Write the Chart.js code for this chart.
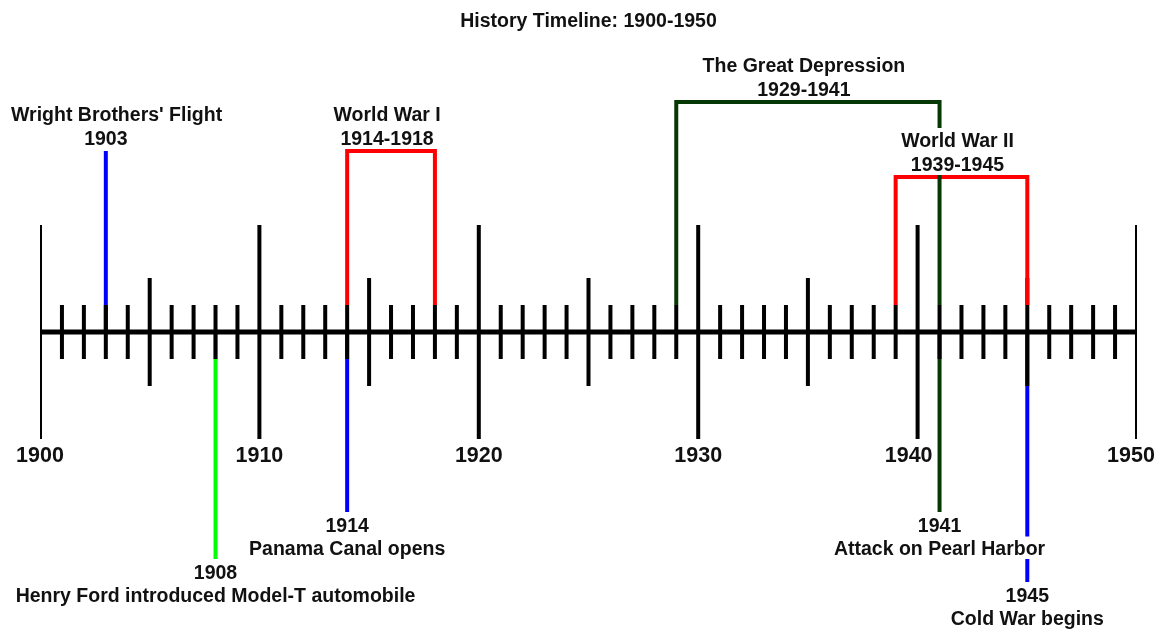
<!DOCTYPE html>
<html>
<head>
<meta charset="utf-8">
<title>History Timeline: 1900-1950</title>
<script src="https://cdn.jsdelivr.net/npm/chart.js@4.4.1/dist/chart.umd.min.js"></script>
<style>
  html, body { margin: 0; padding: 0; background: #fff; }
  #wrap { width: 1165px; height: 630px; }
</style>
</head>
<body>
<div id="wrap"><canvas id="timeline" width="1165" height="630"></canvas></div>
<script>
// --- data ---
const startYear = 1900;
const endYear = 1950;
const decadeLabels = ["1900", "1910", "1920", "1930", "1940", "1950"];

// single events
const eventNames = [
  "Wright Brothers' Flight",
  "Henry Ford introduced Model-T automobile",
  "Panama Canal opens",
  "Attack on Pearl Harbor",
  "Cold War begins",
];
const eventYears = [1903, 1908, 1914, 1941, 1945];

// periods
const spanNames = ["World War I", "The Great Depression", "World War II"];
const spanStarts = [1914, 1929, 1939];
const spanEnds = [1918, 1941, 1945];

// --- layout / style (values are px above the main line, negative = below) ---
const FONT = "'Liberation Sans', Arial, sans-serif";
const TEXT = "#111";
const axisPx = 332; // pixel row of the main line
const titlePad = 9.5;
const titleH = 19.5 * 1.2 + titlePad; // height taken by the title box
const tickLen = { decade: 107, five: 54, year: 27 };
const decadeLabelPad = [0, 0, 0, 0, 3, 2]; // trailing spaces, nudges label left
const eventReach = [181, -227, -180, -180, -250];
const eventColors = ["#0000ff", "#00ff00", "#0000ff", "#063806", "#0000ff"];
const spanHeights = [181, 230, 155];
const spanColors = ["#ff0000", "#063806", "#ff0000"];
const spanLabelDx = -4;
const textDy = 2;

// ticks on the main line, one segment per year
const tickData = [];
for (let yr = startYear; yr <= endYear; yr++) {
  const len =
    yr % 10 === 0 ? tickLen.decade : yr % 5 === 0 ? tickLen.five : tickLen.year;
  tickData.push({ x: yr, y: len }, { x: yr, y: -len }, { x: yr, y: null });
}

const lineDefaults = {
  showLine: true,
  pointRadius: 0,
  borderWidth: 4,
  fill: false,
  tension: 0,
};

const datasets = [
  { ...lineDefaults, label: "ticks", data: tickData, borderColor: "#000", order: 2 },
  {
    ...lineDefaults,
    label: "axis",
    data: [{ x: startYear, y: 0 }, { x: endYear, y: 0 }],
    borderColor: "#000",
    borderWidth: 5,
    order: 2,
  },
];

// brackets sit on top of the ticks and stop at the short tick end
spanNames.forEach((name, i) => {
  datasets.push({
    ...lineDefaults,
    label: name,
    data: [
      { x: spanStarts[i], y: tickLen.year },
      { x: spanStarts[i], y: spanHeights[i] },
      { x: spanEnds[i], y: spanHeights[i] },
      { x: spanEnds[i], y: tickLen.year },
    ],
    borderColor: spanColors[i],
    order: spanColors[i] === "#063806" ? 0 : 1,
  });
});

// single event stems run under the ticks
eventNames.forEach((name, i) => {
  datasets.push({
    ...lineDefaults,
    label: name,
    data: [{ x: eventYears[i], y: 0 }, { x: eventYears[i], y: eventReach[i] }],
    borderColor: eventColors[i],
    order: 3,
  });
});

// labels: two lines each, white box behind so lines get hidden under text
function drawGroup(chart, lines, xVal, vTop, vBottom, dx) {
  const ctx = chart.ctx;
  const xs = chart.scales.x;
  const ys = chart.scales.y;
  const c1 = ys.getPixelForValue(vTop);
  const c2 = ys.getPixelForValue(vBottom);
  const mid = (c1 + c2) / 2;
  const boxes = [
    [c1 - 12, mid],
    [mid, c2 + 11],
  ];
  const centers = [c1, c2];
  lines.forEach((txt, k) => {
    const w = ctx.measureText(txt).width;
    let x = xs.getPixelForValue(xVal) + (dx || 0);
    x = Math.max(x, 11 + w / 2);
    x = Math.min(x, chart.width - 10 - w / 2);
    ctx.fillStyle = "#fff";
    ctx.fillRect(x - w / 2 - 2, boxes[k][0], w + 4, boxes[k][1] - boxes[k][0]);
    ctx.fillStyle = TEXT;
    ctx.fillText(txt, x, centers[k] + textDy);
  });
}

const labelPlugin = {
  id: "timelineLabels",
  afterDraw(chart) {
    const ctx = chart.ctx;
    ctx.save();
    ctx.font = "bold 19.5px " + FONT;
    ctx.textAlign = "center";
    ctx.textBaseline = "middle";

    spanNames.forEach((name, i) => {
      const h = spanHeights[i];
      drawGroup(
        chart,
        [name, spanStarts[i] + "-" + spanEnds[i]],
        (spanStarts[i] + spanEnds[i]) / 2,
        h + 37,
        h + 13,
        spanLabelDx
      );
    });

    eventNames.forEach((name, i) => {
      const r = eventReach[i];
      if (r > 0) {
        drawGroup(chart, [name, String(eventYears[i])], eventYears[i], r + 37, r + 13);
      } else {
        drawGroup(chart, [String(eventYears[i]), name], eventYears[i], r - 13, r - 36);
      }
    });
    ctx.restore();
  },
};

new Chart(document.getElementById("timeline"), {
  type: "scatter",
  data: { datasets },
  options: {
    responsive: false,
    animation: false,
    events: [],
    layout: { padding: { left: 40, right: 28, top: 0, bottom: 0 } },
    plugins: {
      legend: { display: false },
      tooltip: { enabled: false },
      title: {
        display: true,
        text: "History Timeline: 1900-1950",
        fullSize: false,
        color: TEXT,
        font: { family: FONT, size: 19.5, weight: "bold", lineHeight: 1.2 },
        padding: { top: titlePad, bottom: 0 },
      },
    },
    scales: {
      x: {
        type: "linear",
        min: startYear,
        max: endYear,
        position: { y: -111 },
        grid: { display: false, drawTicks: false },
        border: { display: false },
        ticks: {
          stepSize: 10,
          padding: 0,
          color: TEXT,
          font: { family: FONT, size: 21.5, weight: "bold" },
          callback: (v, i) => decadeLabels[i] + " ".repeat(decadeLabelPad[i]),
        },
        afterFit: (s) => {
          // axis labels float at the tick ends, take no room in the layout
          s.height = 0;
          s.paddingLeft = 0;
          s.paddingRight = 0;
        },
      },
      y: {
        type: "linear",
        display: false,
        min: axisPx - 630,
        max: axisPx - titleH,
      },
    },
  },
  plugins: [labelPlugin],
});
</script>
</body>
</html>
